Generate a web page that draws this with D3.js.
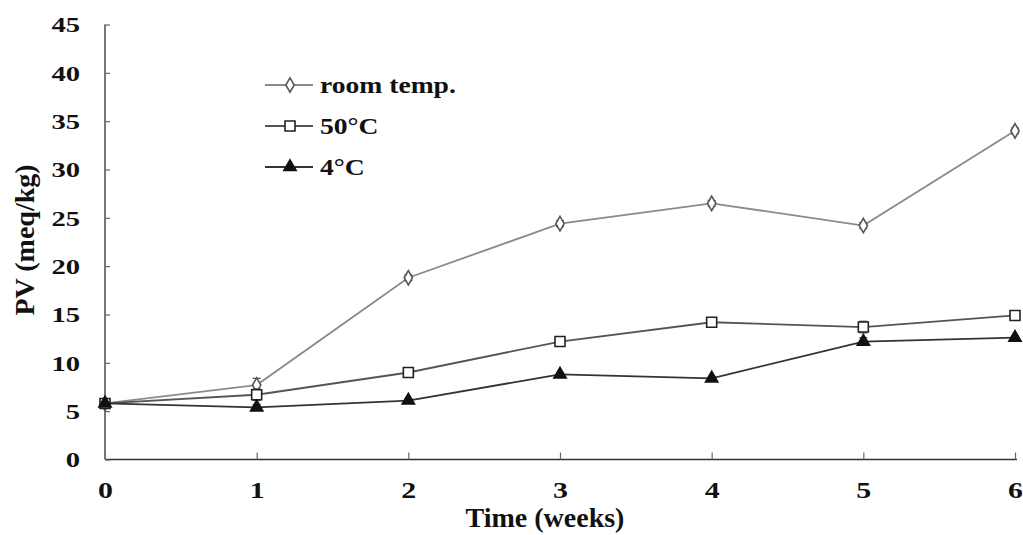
<!DOCTYPE html>
<html>
<head>
<meta charset="utf-8">
<script src="https://cdn.jsdelivr.net/npm/d3@7"></script>
<style>
  html, body { margin: 0; padding: 0; background: #fff; }
  svg { display: block; }
  text { font-family: "Liberation Serif", "Times New Roman", serif; font-weight: bold; fill: #111; }
</style>
</head>
<body>
<svg id="chart" width="1023" height="535"></svg>
<script>
// Peroxide value (meq/kg) over storage time, three storage temperatures
const weeks = [0, 1, 2, 3, 4, 5, 6];
const roomTemp = [5.8, 7.7, 18.8, 24.4, 26.5, 24.2, 34.0];
const hot50 = [5.8, 6.7, 9.0, 12.2, 14.2, 13.7, 14.9];
const cold4 = [5.8, 5.4, 6.1, 8.8, 8.4, 12.2, 12.6];
const roomErr = [0.3, 0.7, 0.3, 0.3, 0.3, 0.3, 0.3];
const hotErr = [0.2, 0.6, 0.2, 0.2, 0.2, 0.6, 0.2];
const coldErr = [0.2, 0.3, 0.2, 0.2, 0.2, 0.4, 0.2];
const yTicks = [0, 5, 10, 15, 20, 25, 30, 35, 40, 45];
const seriesNames = ["room temp.", "50\u00B0C", "4\u00B0C"];

const svg = d3.select("#chart");
const x = d3.scaleLinear().domain([0, 6]).range([105, 1015]);
const y = d3.scaleLinear().domain([0, 45]).range([459.5, 24.5]);

// Wide bold serif numerals
const WIDE = 1.3;

// Axes: ticks point inward
const xAxis = d3.axisBottom(x).tickValues(weeks).tickSize(-7).tickFormat(d3.format("d"));
const yAxis = d3.axisLeft(y).tickValues(yTicks).tickSize(-5);

const gx = svg.append("g").attr("transform", "translate(0,459.5)").call(xAxis);
gx.select(".domain").attr("stroke", "#333").attr("stroke-width", 1.6).attr("d", "M105,0H1017");
gx.selectAll(".tick line").attr("stroke", "#666").attr("stroke-width", 1.2);
gx.selectAll(".tick text").style("font-size", "23px").attr("fill", "#111")
  .attr("y", 0).attr("dy", 0).attr("transform", `translate(0,38) scale(${WIDE},1)`);

const gy = svg.append("g").attr("transform", "translate(105,0)").call(yAxis);
gy.select(".domain").attr("stroke", "#777").attr("stroke-width", 2).attr("d", "M0,459.5V24.5");
gy.selectAll(".tick line").attr("stroke", "#666").attr("stroke-width", 1.2);
gy.selectAll(".tick text").style("font-size", "22px").attr("fill", "#111")
  .attr("x", 0).attr("dy", "0.34em").attr("transform", `translate(-25,0) scale(${WIDE},1)`);

// Axis titles
svg.append("text").attr("x", 545).attr("y", 527).attr("text-anchor", "middle")
  .style("font-size", "28px").text("Time (weeks)");
svg.append("text").attr("transform", "translate(34,240) rotate(-90)").attr("text-anchor", "middle")
  .style("font-size", "28px").text("PV (meq/kg)");

const line = d3.line().x((d, i) => x(weeks[i])).y(d => y(d));

const series = [
  { name: seriesNames[0], values: roomTemp, err: roomErr, stroke: "#8a8a8a", sym: d3.symbolDiamond, fill: "#fff", edge: "#555", size: 60 },
  { name: seriesNames[1], values: hot50, err: hotErr, stroke: "#555", sym: d3.symbolSquare, fill: "#fff", edge: "#222", size: 100 },
  { name: seriesNames[2], values: cold4, err: coldErr, stroke: "#333", sym: d3.symbolTriangle, fill: "#111", edge: "#111", size: 65 }
];

series.forEach(s => {
  svg.append("path").datum(s.values).attr("d", line)
    .attr("fill", "none").attr("stroke", s.stroke).attr("stroke-width", 1.8);
  // error bars
  const eg = svg.append("g");
  s.values.forEach((v, i) => {
    const cx = x(weeks[i]);
    eg.append("line").attr("x1", cx).attr("x2", cx).attr("y1", y(v - s.err[i])).attr("y2", y(v + s.err[i]))
      .attr("stroke", "#444").attr("stroke-width", 1.2);
    [v - s.err[i], v + s.err[i]].forEach(e => {
      eg.append("line").attr("x1", cx - 4).attr("x2", cx + 4).attr("y1", y(e)).attr("y2", y(e))
        .attr("stroke", "#444").attr("stroke-width", 1.2);
    });
  });
  svg.append("g").selectAll("path").data(s.values).join("path")
    .attr("transform", (d, i) => `translate(${x(weeks[i])},${y(d)})`)
    .attr("d", d3.symbol().type(s.sym).size(s.size))
    .attr("fill", s.fill).attr("stroke", s.edge).attr("stroke-width", 1.6);
});

// Legend
const legend = svg.append("g");
series.forEach((s, i) => {
  const ly = 85 + i * 41;
  legend.append("line").attr("x1", 265).attr("x2", 313).attr("y1", ly).attr("y2", ly)
    .attr("stroke", s.stroke).attr("stroke-width", 1.8);
  legend.append("path").attr("transform", `translate(290,${ly})`)
    .attr("d", d3.symbol().type(s.sym).size(s.size))
    .attr("fill", s.fill).attr("stroke", s.edge).attr("stroke-width", 1.6);
  legend.append("text").attr("transform", `translate(320,${ly}) scale(1.2,1)`).attr("dy", "0.34em")
    .style("font-size", "23px").text(s.name);
});
</script>
</body>
</html>
